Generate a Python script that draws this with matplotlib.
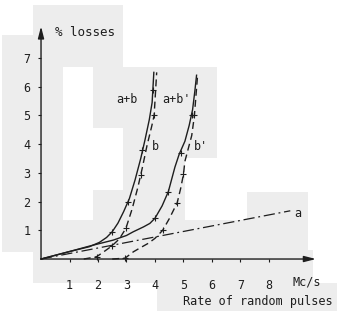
import matplotlib
matplotlib.use("Agg")
import matplotlib.pyplot as plt
from matplotlib.patches import Rectangle

# values
x_a = [0.0, 8.75]
y_a = [0.0, 1.68]

x_ab = [0.0, 0.96, 1.7, 2.05, 2.3, 2.5, 2.7, 2.9, 3.1, 3.3, 3.5, 3.65, 3.8, 3.9, 3.96]
y_ab = [0.0, 0.25, 0.43, 0.58, 0.75, 0.95, 1.25, 1.65, 2.1, 2.75, 3.5, 4.15, 4.85, 5.45, 6.5]
mx_ab = [2.5, 3.07, 3.56, 3.92]
my_ab = [0.95, 2.0, 3.8, 5.9]

x_b = [1.5, 1.95, 2.2, 2.48, 2.75, 2.98, 3.2, 3.4, 3.55, 3.72, 3.88, 3.97, 4.06]
y_b = [0.0, 0.08, 0.25, 0.45, 0.7, 1.07, 1.75, 2.5, 3.15, 3.95, 4.6, 5.0, 6.5]
mx_b = [1.95, 2.48, 2.98, 3.5, 3.97]
my_b = [0.08, 0.45, 1.07, 2.93, 5.0]

x_abp = [0.0, 0.96, 1.7, 2.1, 2.54, 3.0, 3.24, 3.6, 3.82, 4.0, 4.25, 4.47, 4.7, 4.85, 5.05, 5.2, 5.32, 5.4, 5.46]
y_abp = [0.0, 0.25, 0.45, 0.55, 0.66, 0.82, 0.95, 1.12, 1.24, 1.42, 1.85, 2.35, 3.2, 3.65, 4.1, 4.65, 5.2, 5.85, 6.4]
mx_abp = [4.0, 4.47, 4.92, 5.29]
my_abp = [1.42, 2.35, 3.7, 5.0]

x_bp = [2.5, 2.95, 3.24, 3.5, 3.77, 4.0, 4.27, 4.5, 4.78, 4.9, 5.0, 5.05, 5.17, 5.29, 5.38, 5.44, 5.5]
y_bp = [0.0, 0.03, 0.25, 0.4, 0.55, 0.72, 1.0, 1.4, 1.96, 2.45, 2.95, 3.4, 3.85, 4.3, 4.96, 5.7, 6.45]
mx_bp = [2.95, 4.27, 4.78, 4.99, 5.38]
my_bp = [0.03, 1.0, 1.96, 2.95, 5.0]

xticks = [1, 2, 3, 4, 5, 6, 7, 8]
yticks = [1, 2, 3, 4, 5, 6, 7]

plt.rcParams['font.family'] = ['DejaVu Sans Mono', 'DejaVu Sans']
ink = '#1e1e1e'

fig = plt.figure(figsize=(3.41, 3.11), dpi=100)

# light grey scan patches behind the drawing (pixel boxes x0, y0, x1, y1)
patches = [(33, 5, 123, 67), (2, 35, 63, 252), (93, 67, 123, 128),
           (123, 67, 217, 158), (123, 158, 185, 190), (93, 190, 185, 220),
           (63, 220, 247, 253), (247, 192, 308, 250), (33, 250, 313, 283),
           (157, 283, 337, 311)]
for x0, y0, x1, y1 in patches:
    fig.patches.append(Rectangle((x0 / 341, 1 - y1 / 311), (x1 - x0) / 341,
                                 (y1 - y0) / 311, transform=fig.transFigure,
                                 facecolor='#ededed', edgecolor='none', zorder=0))

ax = fig.add_axes([0, 0, 1, 1])
ax.set_zorder(2)
ax.set_facecolor('none')
ax.set_xlim(-1.44, 10.53)
ax.set_ylim(-1.81, 9.02)

for s in ['top', 'right', 'left', 'bottom']:
    ax.spines[s].set_visible(False)
ax.spines['left'].set_position(('data', 0))
ax.spines['bottom'].set_position(('data', 0))

# axes with arrow heads
ax.annotate('', xy=(9.65, 0), xytext=(0, 0),
            arrowprops=dict(arrowstyle='-|>,head_length=0.7,head_width=0.18',
                            color=ink, lw=1.0, shrinkA=0, shrinkB=0))
ax.annotate('', xy=(0, 8.1), xytext=(0, 0),
            arrowprops=dict(arrowstyle='-|>,head_length=0.7,head_width=0.18',
                            color=ink, lw=1.0, shrinkA=0, shrinkB=0))

ax.set_xticks(xticks)
ax.set_yticks(yticks)
ax.set_xticklabels([str(t) for t in xticks])
ax.set_yticklabels([str(t) for t in yticks])
ax.tick_params(axis='x', direction='out', length=2.5, width=0.8, color=ink,
               pad=12, labelsize=8.5, labelcolor=ink)
ax.tick_params(axis='y', direction='out', length=2.5, width=0.8, color=ink,
               pad=5, labelsize=8.5, labelcolor=ink)

# curves
ax.plot(x_a, y_a, color=ink, lw=0.9, dashes=(9, 3, 1.5, 3))
ax.plot(x_ab, y_ab, color=ink, lw=1.0)
ax.plot(x_abp, y_abp, color=ink, lw=1.0)
ax.plot(x_b, y_b, color=ink, lw=1.0, dashes=(5, 3))
ax.plot(x_bp, y_bp, color=ink, lw=1.0, dashes=(5, 3))

for mx, my in [(mx_ab, my_ab), (mx_b, my_b), (mx_abp, my_abp), (mx_bp, my_bp)]:
    ax.plot(mx, my, ls='none', marker='+', ms=4, mew=0.8, color=ink)

# curve labels
ax.text(3.0, 5.56, 'a+b', ha='center', va='center', fontsize=8.5, color=ink)
ax.text(4.77, 5.56, "a+b'", ha='center', va='center', fontsize=8.5, color=ink)
ax.text(4.02, 3.93, 'b', ha='center', va='center', fontsize=8.5, color=ink)
ax.text(5.62, 3.93, "b'", ha='center', va='center', fontsize=8.5, color=ink)
ax.text(9.03, 1.58, 'a', ha='center', va='center', fontsize=8.5, color=ink)

# axis titles
ax.text(0.49, 7.89, '% losses', ha='left', va='center', fontsize=9, color=ink)
ax.text(8.84, -0.8, 'Mc/s', ha='left', va='center', fontsize=8.5, color=ink)
ax.text(10.25, -1.49, 'Rate of random pulses', ha='right', va='center',
        fontsize=8.5, color=ink)

fig.savefig('out.png', dpi=100)
